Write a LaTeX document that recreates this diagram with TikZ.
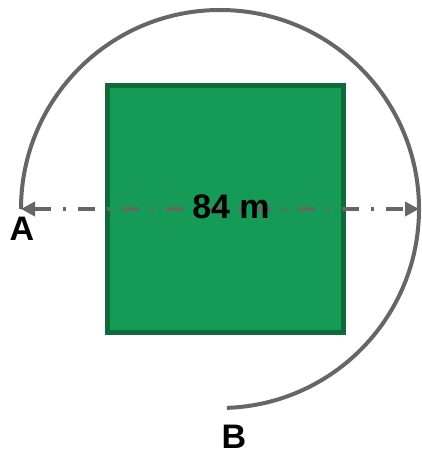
\documentclass[tikz,border=0pt]{standalone}
\usepackage{fontspec}
\setmainfont{Liberation Sans}
\usetikzlibrary{arrows.meta}
\definecolor{sqfill}{RGB}{22,155,87}
\definecolor{sqborder}{RGB}{14,108,58}
\definecolor{linegray}{RGB}{102,102,102}
\tikzset{
  lbl/.style={font=\fontsize{34}{38}\selectfont\bfseries, inner sep=0pt, text=black},
  dimline/.style={draw=linegray, line width=3.5pt, dash pattern=on 17pt off 12pt on 3pt off 12pt,
    {Triangle[length=14pt,width=14pt]}-{Triangle[length=14pt,width=14pt]}},
  arcline/.style={draw=linegray, line width=4pt},
  sq/.style={fill=sqfill, draw=sqborder, line width=5pt}
}
\begin{document}
\begin{tikzpicture}[x=1pt,y=1pt]
\useasboundingbox (0,0) rectangle (422,455);
\draw[sq] (107.5,122.5) rectangle (343.5,369.5);
\coordinate (O) at (220,246);
\coordinate (pA) at (21,246);
\coordinate (pR) at (419,246);
\draw[arcline] (pA) arc[start angle=180, end angle=-88, radius=199];
\draw[dimline] (pA) -- (pR);
\node[lbl] (m) at (231,248) {84 m};
\node[lbl] (A) at (22,226) {A};
\node[lbl] (B) at (234,18) {B};
\end{tikzpicture}
\end{document}
